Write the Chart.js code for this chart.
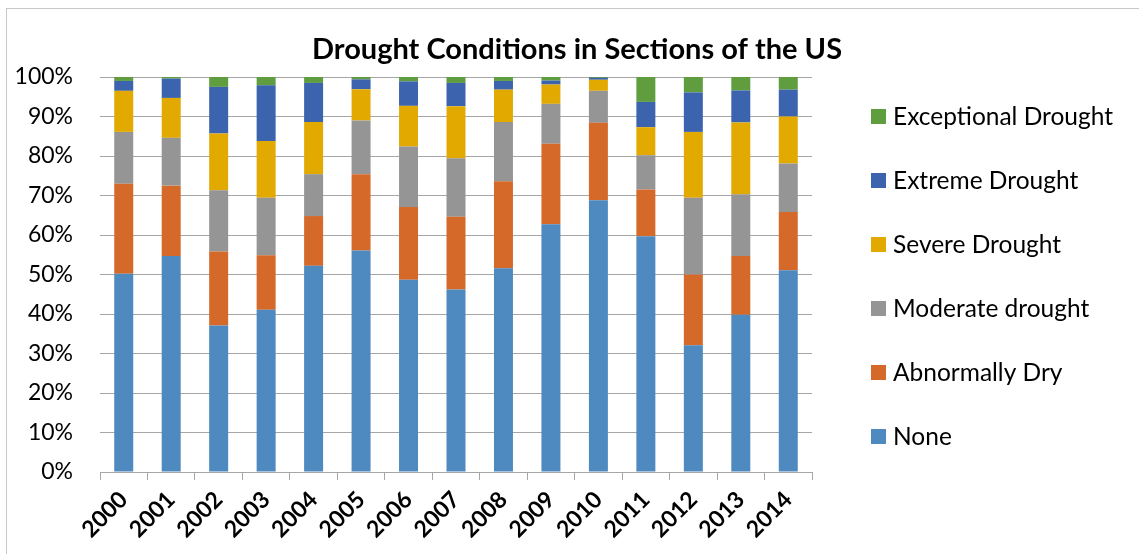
<!DOCTYPE html>
<html>
<head>
<meta charset="utf-8">
<script src="https://cdn.jsdelivr.net/npm/chart.js@4.4.1/dist/chart.umd.min.js"></script>
<style>
  html, body { margin: 0; padding: 0; background: #fff; }
  #wrap { width: 1139px; height: 554px; position: relative; }
</style>
</head>
<body>
<div id="wrap"><canvas id="canvas" width="1139" height="554"></canvas></div>
<script>
const title = "Drought Conditions in Sections of the US";

const years = ["2000", "2001", "2002", "2003", "2004", "2005", "2006", "2007",
    "2008", "2009", "2010", "2011", "2012", "2013", "2014"];

const seriesNames = ["None", "Abnormally Dry", "Moderate drought",
    "Severe Drought", "Extreme Drought", "Exceptional Drought"];

const seriesColors = ["#4e89c0", "#d4692a", "#959595", "#e2aa00", "#3b63ae", "#5f9d3e"];

// percent of area
const none =        [50.2, 54.7, 37.1, 41.1, 52.2, 56.1, 48.7, 46.2, 51.6, 62.7, 68.8, 59.7, 32.1, 39.8, 51.1];
const abnormal =    [22.8, 17.8, 18.7, 13.8, 12.6, 19.3, 18.4, 18.4, 22.0, 20.4, 19.6, 11.8, 17.9, 14.9, 14.7];
const moderate =    [13.1, 12.1, 15.5, 14.5, 10.6, 13.6, 15.3, 14.8, 15.0, 10.1, 8.1, 8.7, 19.4, 15.6, 12.3];
const severe =      [10.4, 10.1, 14.4, 14.4, 13.2, 7.9, 10.3, 13.2, 8.2, 4.9, 2.8, 7.1, 16.7, 18.2, 11.9];
const extreme =     [2.5, 4.9, 11.8, 14.1, 9.9, 2.5, 6.2, 5.9, 2.2, 1.0, 0.5, 6.4, 10.0, 8.1, 6.8];
const exceptional = [1.0, 0.4, 2.5, 2.1, 1.5, 0.6, 1.1, 1.5, 1.0, 0.9, 0.2, 6.3, 3.9, 3.4, 3.2];

const yTicks = [0, 10, 20, 30, 40, 50, 60, 70, 80, 90, 100];

const series = [none, abnormal, moderate, severe, extreme, exceptional];

// 100% stacked: scale each year to its own total
const totals = years.map((y, i) => series.reduce((s, arr) => s + arr[i], 0));

const datasets = series.map((arr, k) => ({
    label: seriesNames[k],
    data: arr.map((v, i) => v / totals[i] * 100),
    backgroundColor: seriesColors[k],
    borderWidth: 0,
    barPercentage: 0.4,
    categoryPercentage: 1.0
}));

Chart.defaults.font.family = "Lato, 'Open Sans', sans-serif";
Chart.defaults.color = "#000";

// frame, title and legend drawn the way the spreadsheet lays them out
const decorations = {
    id: "decorations",
    afterDraw(chart) {
        const ctx = chart.ctx;
        ctx.save();
        ctx.strokeStyle = "#c8c8c8";
        ctx.lineWidth = 1;
        ctx.strokeRect(6.5, 8.5, 1150, 560);

        ctx.fillStyle = "#000";
        ctx.font = "bold 29px Lato, 'Open Sans', sans-serif";
        ctx.textAlign = "center";
        ctx.textBaseline = "middle";
        ctx.fillText(title, 577, 50);

        ctx.font = "24.5px Lato, 'Open Sans', sans-serif";
        ctx.textAlign = "left";
        const ds = chart.data.datasets;
        for (let k = 0; k < ds.length; k++) {
            const item = ds[ds.length - 1 - k];
            const cy = 116.5 + k * 64;
            ctx.fillStyle = item.backgroundColor;
            ctx.fillRect(871, cy - 7.5, 15, 15);
            ctx.fillStyle = "#000";
            ctx.fillText(item.label, 893, cy + 1);
        }
        ctx.restore();
    }
};

const config = {
    type: "bar",
    data: {
        labels: years,
        datasets: datasets
    },
    options: {
        responsive: false,
        animation: false,
        layout: {
            padding: { left: 0, right: 327, top: 77, bottom: 0 }
        },
        plugins: {
            legend: { display: false },
            title: { display: false },
            tooltip: { enabled: false }
        },
        scales: {
            x: {
                stacked: true,
                offset: true,
                grid: {
                    offset: true,
                    drawOnChartArea: false,
                    drawTicks: true,
                    tickLength: 8,
                    color: "#a6a6a6"
                },
                border: { color: "#a6a6a6" },
                ticks: {
                    minRotation: 45,
                    maxRotation: 45,
                    padding: 6,
                    font: { size: 23, weight: "bold" }
                },
                afterFit: (scale) => { scale.height = 82; }
            },
            y: {
                stacked: true,
                min: 0,
                max: 100,
                afterBuildTicks: (scale) => {
                    scale.ticks = yTicks.map((v) => ({ value: v }));
                },
                grid: {
                    drawTicks: false,
                    color: "#a6a6a6"
                },
                border: { display: false },
                ticks: {
                    padding: 27,
                    font: { size: 23 },
                    callback: (v) => v + "%"
                },
                afterFit: (scale) => { scale.width = 100; }
            }
        }
    },
    plugins: [decorations]
};

const myChart = new Chart(document.getElementById("canvas"), config);
</script>
</body>
</html>
